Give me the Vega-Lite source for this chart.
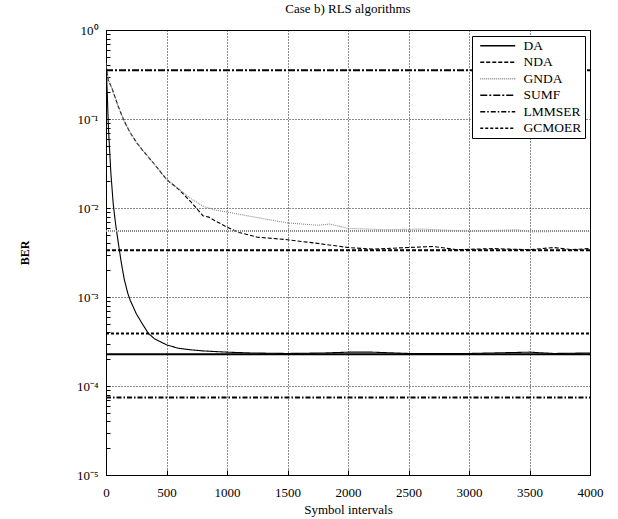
{
  "$schema": "https://vega.github.io/schema/vega-lite/v6.json",
  "width": 484,
  "height": 445,
  "autosize": {"type": "none"},
  "padding": {"left": 106, "top": 30, "right": 28, "bottom": 44},
  "background": "white",
  "title": {"text": "Case b) RLS algorithms", "font": "Liberation Serif", "fontSize": 13, "fontWeight": "normal", "color": "black", "offset": 8, "anchor": "middle"},
  "config": {
    "view": {"stroke": "black", "strokeWidth": 1},
    "axis": {"labelFont": "Liberation Serif", "titleFont": "Liberation Serif", "labelColor": "black", "titleColor": "black", "domainColor": "black", "tickColor": "black"},
    "legend": {"labelFont": "Liberation Serif"}
  },
  "data": {"values": [
    {"s":"DA","k":"c","x":0,"y":0.45},{"s":"DA","k":"c","x":10,"y":0.2},{"s":"DA","k":"c","x":20,"y":0.08},{"s":"DA","k":"c","x":40,"y":0.025},{"s":"DA","k":"c","x":60,"y":0.011},{"s":"DA","k":"c","x":80,"y":0.0065},{"s":"DA","k":"c","x":100,"y":0.0042},{"s":"DA","k":"c","x":125,"y":0.0025},{"s":"DA","k":"c","x":150,"y":0.0016},{"s":"DA","k":"c","x":180,"y":0.0011},{"s":"DA","k":"c","x":200,"y":0.00092},{"s":"DA","k":"c","x":250,"y":0.00065},{"s":"DA","k":"c","x":300,"y":0.0005},{"s":"DA","k":"c","x":350,"y":0.00039},{"s":"DA","k":"c","x":400,"y":0.00034},{"s":"DA","k":"c","x":500,"y":0.00029},{"s":"DA","k":"c","x":600,"y":0.000265},{"s":"DA","k":"c","x":700,"y":0.000255},{"s":"DA","k":"c","x":800,"y":0.000248},{"s":"DA","k":"c","x":1000,"y":0.00024},{"s":"DA","k":"c","x":1200,"y":0.000235},{"s":"DA","k":"c","x":1500,"y":0.000232},{"s":"DA","k":"c","x":1800,"y":0.000235},{"s":"DA","k":"c","x":2000,"y":0.00024},{"s":"DA","k":"c","x":2200,"y":0.00024},{"s":"DA","k":"c","x":2500,"y":0.000232},{"s":"DA","k":"c","x":3000,"y":0.000232},{"s":"DA","k":"c","x":3500,"y":0.00024},{"s":"DA","k":"c","x":3700,"y":0.000232},{"s":"DA","k":"c","x":4000,"y":0.000235},
    {"s":"NDA","k":"c","x":0,"y":0.4},{"s":"NDA","k":"c","x":20,"y":0.27},{"s":"NDA","k":"c","x":50,"y":0.22},{"s":"NDA","k":"c","x":100,"y":0.14},{"s":"NDA","k":"c","x":150,"y":0.095},{"s":"NDA","k":"c","x":200,"y":0.07},{"s":"NDA","k":"c","x":250,"y":0.055},{"s":"NDA","k":"c","x":300,"y":0.045},{"s":"NDA","k":"c","x":400,"y":0.031},{"s":"NDA","k":"c","x":500,"y":0.021},{"s":"NDA","k":"c","x":600,"y":0.0162},{"s":"NDA","k":"c","x":700,"y":0.0118},{"s":"NDA","k":"c","x":800,"y":0.0082},{"s":"NDA","k":"c","x":850,"y":0.0079},{"s":"NDA","k":"c","x":900,"y":0.0072},{"s":"NDA","k":"c","x":1000,"y":0.0061},{"s":"NDA","k":"c","x":1100,"y":0.0053},{"s":"NDA","k":"c","x":1250,"y":0.0047},{"s":"NDA","k":"c","x":1500,"y":0.0044},{"s":"NDA","k":"c","x":1750,"y":0.004},{"s":"NDA","k":"c","x":2000,"y":0.0036},{"s":"NDA","k":"c","x":2200,"y":0.00345},{"s":"NDA","k":"c","x":2500,"y":0.0036},{"s":"NDA","k":"c","x":2700,"y":0.0037},{"s":"NDA","k":"c","x":2900,"y":0.0034},{"s":"NDA","k":"c","x":3200,"y":0.0035},{"s":"NDA","k":"c","x":3500,"y":0.0034},{"s":"NDA","k":"c","x":3700,"y":0.0036},{"s":"NDA","k":"c","x":3850,"y":0.0034},{"s":"NDA","k":"c","x":4000,"y":0.0035},
    {"s":"GNDA","k":"c","x":0,"y":0.42},{"s":"GNDA","k":"c","x":20,"y":0.28},{"s":"GNDA","k":"c","x":50,"y":0.22},{"s":"GNDA","k":"c","x":100,"y":0.14},{"s":"GNDA","k":"c","x":150,"y":0.095},{"s":"GNDA","k":"c","x":200,"y":0.07},{"s":"GNDA","k":"c","x":250,"y":0.055},{"s":"GNDA","k":"c","x":300,"y":0.045},{"s":"GNDA","k":"c","x":400,"y":0.031},{"s":"GNDA","k":"c","x":500,"y":0.021},{"s":"GNDA","k":"c","x":600,"y":0.0165},{"s":"GNDA","k":"c","x":700,"y":0.0128},{"s":"GNDA","k":"c","x":800,"y":0.0105},{"s":"GNDA","k":"c","x":900,"y":0.0095},{"s":"GNDA","k":"c","x":1000,"y":0.009},{"s":"GNDA","k":"c","x":1100,"y":0.0085},{"s":"GNDA","k":"c","x":1250,"y":0.0078},{"s":"GNDA","k":"c","x":1500,"y":0.0068},{"s":"GNDA","k":"c","x":1750,"y":0.0064},{"s":"GNDA","k":"c","x":1850,"y":0.0066},{"s":"GNDA","k":"c","x":2000,"y":0.0059},{"s":"GNDA","k":"c","x":2300,"y":0.0057},{"s":"GNDA","k":"c","x":2600,"y":0.0058},{"s":"GNDA","k":"c","x":3000,"y":0.0055},{"s":"GNDA","k":"c","x":3400,"y":0.0057},{"s":"GNDA","k":"c","x":3500,"y":0.0054},{"s":"GNDA","k":"c","x":4000,"y":0.0055},
    {"s":"DA","k":"b","x":0,"y":0.000227},{"s":"DA","k":"b","x":4000,"y":0.000227},
    {"s":"NDA","k":"b","x":0,"y":0.00335},{"s":"NDA","k":"b","x":4000,"y":0.00335},
    {"s":"GNDA","k":"b","x":0,"y":0.00552},{"s":"GNDA","k":"b","x":4000,"y":0.00552},
    {"s":"SUMF","k":"b","x":0,"y":0.352},{"s":"SUMF","k":"b","x":4000,"y":0.352},
    {"s":"LMMSER","k":"b","x":0,"y":0.0000741},{"s":"LMMSER","k":"b","x":4000,"y":0.0000741},
    {"s":"GCMOER","k":"b","x":0,"y":0.000388},{"s":"GCMOER","k":"b","x":4000,"y":0.000388}
  ]},
  "mark": {"type": "line", "clip": true},
  "encoding": {
    "x": {"field": "x", "type": "quantitative", "scale": {"domain": [0, 4000], "nice": false},
      "axis": {"values": [0,500,1000,1500,2000,2500,3000,3500,4000], "format": "d", "title": "Symbol intervals", "titleFontSize": 13, "titleFontWeight": "normal", "titlePadding": 4, "labelFontSize": 13, "labelPadding": 16, "ticks": true, "tickSize": -5, "grid": true, "gridColor": "black", "gridDash": [1, 2], "gridOpacity": 0.9, "labelFlush": false}},
    "y": {"field": "y", "type": "quantitative", "scale": {"type": "log", "domain": [0.00001, 1], "nice": false},
      "axis": {"values": [0.00001,0.00002,0.00003,0.00004,0.00005,0.00006,0.00007,0.00008,0.00009,0.0001,0.0002,0.0003,0.0004,0.0005,0.0006,0.0007,0.0008,0.0009,0.001,0.002,0.003,0.004,0.005,0.006,0.007,0.008,0.009,0.01,0.02,0.03,0.04,0.05,0.06,0.07,0.08,0.09,0.1,0.2,0.3,0.4,0.5,0.6,0.7,0.8,0.9,1],
        "labelExpr": "datum.value==1?'10⁰':datum.value==0.1?'10⁻¹':datum.value==0.01?'10⁻²':datum.value==0.001?'10⁻³':datum.value==0.0001?'10⁻⁴':datum.value==0.00001?'10⁻⁵':''",
        "title": "BER", "titleFontSize": 12, "titleFontWeight": "bold", "titlePadding": 45, "labelFontSize": 13, "labelPadding": 12, "labelOverlap": false,
        "ticks": true, "tickSize": -4,
        "grid": true, "gridColor": "black", "gridDash": [1, 2],
        "gridOpacity": {"condition": {"test": "indexof([1,0.1,0.01,0.001,0.0001,0.00001], datum.value) >= 0", "value": 0.9}, "value": 0}}},
    "color": {"field": "s", "type": "nominal", "scale": {"domain": ["DA","NDA","GNDA","SUMF","LMMSER","GCMOER"], "range": ["black","black","#888888","black","black","black"]}, "title": null,
      "legend": {"orient": "none", "legendX": 366, "legendY": 6, "fillColor": "white", "strokeColor": "black", "padding": 3, "symbolType": "M-3.5,0L3.5,0", "symbolSize": 100, "symbolOffset": 16, "symbolStrokeWidth": 1.5, "labelFontSize": 13.5, "labelLimit": 200, "rowPadding": 1.5, "labelOffset": 19}},
    "strokeDash": {"field": "s", "type": "nominal", "scale": {"domain": ["DA","NDA","GNDA","SUMF","LMMSER","GCMOER"], "range": [[1,0],[4,2],[1,1],[7,2,2,2],[5,2,1.5,2],[3,2]]}, "title": null},
    "detail": {"field": "k"},
    "strokeWidth": {"field": "k", "type": "nominal", "scale": {"domain": ["c","b"], "range": [1.1, 2]}, "legend": null}
  }
}
